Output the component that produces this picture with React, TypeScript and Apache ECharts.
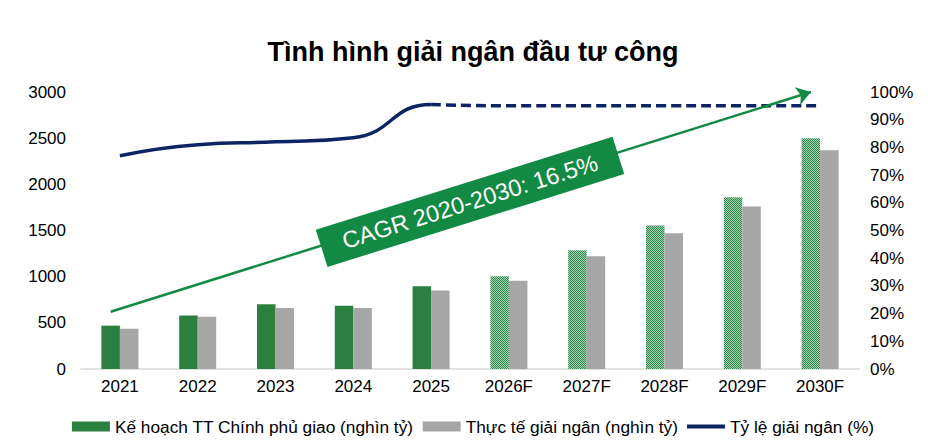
import React, { useEffect, useRef } from 'react';
import * as echarts from 'echarts';

const categories = ['2021', '2022', '2023', '2024', '2025', '2026F', '2027F', '2028F', '2029F', '2030F'];
const planValues = [470, 580, 700, 685, 895, 1005, 1285, 1555, 1860, 2500];
const actualValues = [435, 565, 660, 660, 850, 955, 1220, 1470, 1760, 2370];
// tỷ lệ giải ngân: thực tế đến 2025, dự báo từ 2025
const ratioValues = [77, 81, 82, 83.5, 95.5, 95, 95, 95, 95, 95];
const lastActualIndex = 4;
const cagrFrom = 620;
const cagrTo = 3000;
const cagrText = 'CAGR 2020-2030: 16.5%';

const FONT = '"Liberation Sans", Arial, sans-serif';
const GREEN = '#2b7f3f';
const GRAY = '#a6a6a6';
const NAVY = '#0c2461';
const CAGR_GREEN = '#128a43';

const LEGEND_PLAN = 'Kế hoạch TT Chính phủ giao (nghìn tỷ)';
const LEGEND_ACTUAL = 'Thực tế giải ngân (nghìn tỷ)';
const LEGEND_RATIO = 'Tỷ lệ giải ngân (%)';

const makePattern = () => {
  const c = document.createElement('canvas');
  c.width = 2;
  c.height = 2;
  const ctx = c.getContext('2d')!;
  ctx.fillStyle = '#a8d4b4';
  ctx.fillRect(0, 0, 2, 2);
  ctx.fillStyle = '#2a8548';
  ctx.fillRect(0, 0, 1, 1);
  ctx.fillRect(1, 1, 1, 1);
  return { image: c, repeat: 'repeat', imageWidth: 2, imageHeight: 2 };
};

const App: React.FC = () => {
  const chartRef = useRef<HTMLDivElement>(null);

  useEffect(() => {
    document.body.style.margin = '0';
    if (!chartRef.current) return;
    const chart = echarts.init(chartRef.current, undefined, { renderer: 'svg' });
    const pattern = makePattern();

    const planData = planValues.map((v, i) =>
      categories[i].endsWith('F') ? { value: v, itemStyle: { color: pattern as any } } : v
    );
    const forecastRatio = ratioValues.map((v, i) => (i >= lastActualIndex ? v : null));

    const option: echarts.EChartsOption = {
      animation: false,
      textStyle: { fontFamily: FONT },
      title: {
        text: 'Tình hình giải ngân đầu tư công',
        left: 'center',
        top: 33,
        textStyle: { fontFamily: FONT, fontSize: 27, fontWeight: 'bold', color: '#000' },
      },
      legend: {
        bottom: 7,
        left: 'center',
        itemWidth: 38,
        itemHeight: 10,
        itemGap: 9,
        textStyle: { fontFamily: FONT, fontSize: 17.3, color: '#000' },
        data: [
          { name: LEGEND_PLAN, icon: 'rect' },
          { name: LEGEND_ACTUAL, icon: 'rect' },
          { name: LEGEND_RATIO, icon: 'path://M0 0H38V4H0Z', itemStyle: { color: NAVY } } as any,
        ],
      },
      grid: { left: 81, right: 87, top: 92, bottom: 78 },
      xAxis: {
        type: 'category',
        data: categories,
        axisTick: { show: false },
        axisLine: { lineStyle: { color: '#d9d9d9', width: 1.5 } },
        axisLabel: { fontFamily: FONT, fontSize: 17, color: '#000', margin: 9 },
      },
      yAxis: [
        {
          type: 'value',
          min: 0,
          max: 3000,
          interval: 500,
          splitLine: { show: false },
          axisLine: { show: false },
          axisLabel: {
            fontFamily: FONT,
            fontSize: 17,
            color: '#000',
            margin: 15,
            formatter: (v: number) => String(v),
          },
        },
        {
          type: 'value',
          min: 0,
          max: 100,
          interval: 10,
          splitLine: { show: false },
          axisLine: { show: false },
          axisLabel: { fontFamily: FONT, fontSize: 17, color: '#000', margin: 11, formatter: '{value}%' },
        },
      ],
      series: [
        {
          id: 'plan',
          name: LEGEND_PLAN,
          type: 'bar',
          barWidth: 18.5,
          barGap: '0%',
          itemStyle: { color: GREEN },
          data: planData as any,
          markLine: {
            silent: true,
            symbol: ['none', 'arrow'],
            symbolSize: 14,
            lineStyle: { color: CAGR_GREEN, width: 2.5, type: 'solid' },
            label: { show: false },
            data: [[{ coord: [categories[0], cagrFrom] }, { coord: [categories[categories.length - 1], cagrTo] }]] as any,
          },
        },
        {
          id: 'actual',
          name: LEGEND_ACTUAL,
          type: 'bar',
          barWidth: 18.5,
          barGap: '0%',
          itemStyle: { color: GRAY },
          data: actualValues,
        },
        {
          id: 'ratio',
          name: LEGEND_RATIO,
          type: 'line',
          yAxisIndex: 1,
          smooth: true,
          symbol: 'none',
          lineStyle: { color: NAVY, width: 3.5 },
          itemStyle: { color: NAVY },
          data: ratioValues,
        },
        {
          id: 'ratioForecast',
          name: 'ratio-forecast',
          type: 'line',
          yAxisIndex: 1,
          smooth: true,
          symbol: 'none',
          lineStyle: { color: NAVY, width: 3.5, type: [10, 5] },
          itemStyle: { color: NAVY },
          data: forecastRatio as any,
        },
      ],
    };

    chart.setOption(option);

    // solid line only up to the last actual year: hard-stop gradient at that x
    const w = chart.getWidth();
    const cutX = (chart.convertToPixel({ xAxisIndex: 0, yAxisIndex: 1 }, [categories[lastActualIndex], 0]) as number[])[0];
    const off = Math.min(1, Math.max(0, cutX / w));
    const solidColor = new echarts.graphic.LinearGradient(
      0,
      0,
      w,
      0,
      [
        { offset: 0, color: NAVY },
        { offset: off, color: NAVY },
        { offset: off, color: 'rgba(12,36,97,0)' },
        { offset: 1, color: 'rgba(12,36,97,0)' },
      ],
      true
    );

    const p1 = chart.convertToPixel({ xAxisIndex: 0, yAxisIndex: 0 }, [categories[0], cagrFrom]) as number[];
    const p2 = chart.convertToPixel(
      { xAxisIndex: 0, yAxisIndex: 0 },
      [categories[categories.length - 1], cagrTo]
    ) as number[];
    const angle = Math.atan2(p1[1] - p2[1], p2[0] - p1[0]);
    chart.setOption({
      series: [{ id: 'ratio', lineStyle: { color: solidColor as any } }],
      graphic: [
        {
          type: 'group',
          x: (p1[0] + p2[0]) / 2,
          y: (p1[1] + p2[1]) / 2,
          rotation: angle,
          z: 100,
          children: [
            {
              type: 'rect',
              z: 100,
              shape: { x: -155.5, y: -19.5, width: 311, height: 39 },
              style: { fill: CAGR_GREEN },
            },
            {
              type: 'text',
              z: 101,
              x: 0,
              y: 0,
              style: {
                text: cagrText,
                fill: '#fff',
                fontFamily: FONT,
                fontSize: 23.5,
                align: 'center',
                verticalAlign: 'middle',
              },
            },
          ],
        },
      ],
    });

    return () => {
      chart.dispose();
    };
  }, []);

  return <div ref={chartRef} style={{ width: 946, height: 447 }} />;
};

export default App;
